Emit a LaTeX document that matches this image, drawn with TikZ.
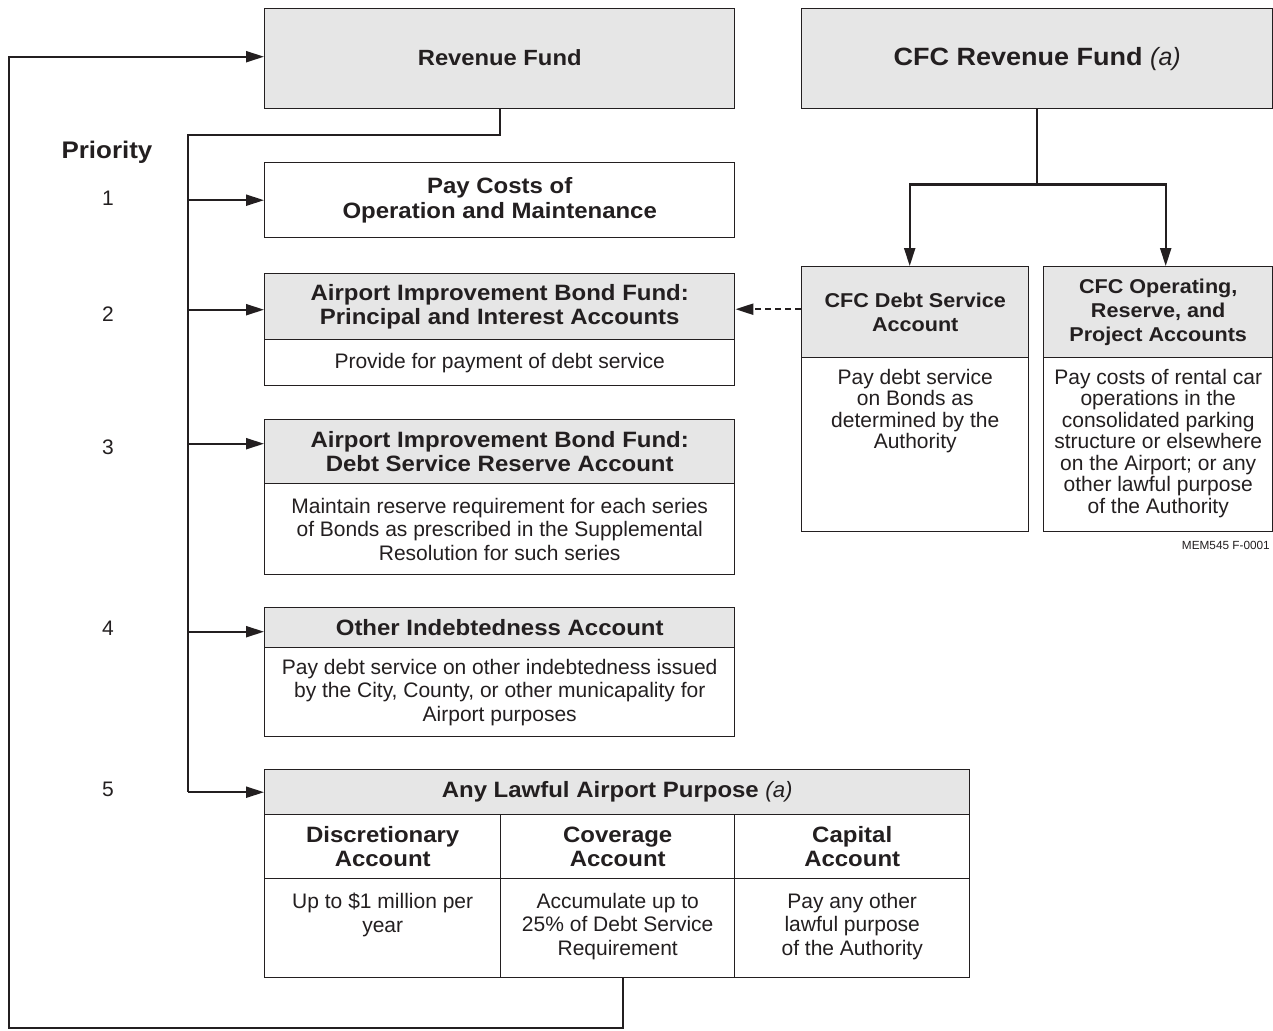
\documentclass[tikz,border=0pt]{standalone}
\usepackage{fontspec}
\setmainfont{Liberation Sans}[BoldFeatures={FakeStretch=1.08}]
\usetikzlibrary{arrows.meta,calc}
\definecolor{ink}{HTML}{231F20}
\definecolor{hdrgray}{HTML}{E6E6E6}
\begin{document}
\begin{tikzpicture}[x=1bp,y=-1bp,
  box/.style={draw=ink,line width=1.4bp,rectangle,inner sep=0pt,anchor=north west,text=ink,align=center},
  hdr/.style={box,fill=hdrgray,font=\fontsize{22.2bp}{24.5bp}\selectfont\bfseries},
  whdr/.style={box,fill=white,font=\fontsize{22.2bp}{24.5bp}\selectfont\bfseries},
  chdr/.style={box,fill=hdrgray,font=\fontsize{20bp}{24bp}\selectfont\bfseries},
  bodybox/.style={box,fill=white,font=\fontsize{21bp}{23.5bp}\selectfont},
  txt/.style={text=ink,align=center,inner sep=0pt,font=\fontsize{21bp}{23.5bp}\selectfont},
  conn/.style={draw=ink,line width=2.2bp},
  arr/.style={conn,-{Triangle[length=18bp,width=11bp]}},
  darr/.style={arr,dash pattern=on 6bp off 4bp},
]
\fill[white] (0,0) rectangle (1273,1031);
\useasboundingbox (0,0) rectangle (1273,1031);

% top funds
\node[hdr,font=\fontsize{22bp}{26bp}\selectfont\bfseries,minimum width=470bp,minimum height=100bp] (rev) at (264,8) {\raisebox{3bp}{Revenue Fund}};
\node[hdr,font=\fontsize{25bp}{28bp}\selectfont\bfseries,minimum width=471bp,minimum height=100bp] (cfc) at (801,8) {CFC Revenue Fund {\mdseries\itshape (a)}};

% priority labels
\node[txt,font=\fontsize{24bp}{26bp}\selectfont\bfseries] (prio) at (107,152) {Priority};
\node[txt] (p1) at (108,198) {1};
\node[txt] (p2) at (108,314) {2};
\node[txt] (p3) at (108,447) {3};
\node[txt] (p4) at (108,628) {4};
\node[txt] (p5) at (108,789) {5};

% box 1
\node[whdr,minimum width=470bp,minimum height=75bp] (b1) at (264,162) {Pay Costs of\\Operation and Maintenance};

% box 2
\node[hdr,minimum width=470bp,minimum height=66bp] (b2h) at (264,273) {Airport Improvement Bond Fund:\\Principal and Interest Accounts};
\node[bodybox,minimum width=470bp,minimum height=46bp] (b2b) at (264,339) {Provide for payment of debt service};

% box 3
\node[hdr,minimum width=470bp,minimum height=64bp] (b3h) at (264,419) {Airport Improvement Bond Fund:\\Debt Service Reserve Account};
\node[bodybox,minimum width=470bp,minimum height=91bp] (b3b) at (264,483) {Maintain reserve requirement for each series\\of Bonds as prescribed in the Supplemental\\Resolution for such series};

% box 4
\node[hdr,minimum width=470bp,minimum height=40bp] (b4h) at (264,607) {Other Indebtedness Account};
\node[bodybox,minimum width=470bp,minimum height=89bp] (b4b) at (264,647) {Pay debt service on other indebtedness issued\\by the City, County, or other municapality for\\Airport purposes};

% box 5
\node[hdr,minimum width=705bp,minimum height=45bp] (b5h) at (264,769) {Any Lawful Airport Purpose {\mdseries\itshape (a)}};
\node[whdr,minimum width=236bp,minimum height=64bp] (c1h) at (264,814) {Discretionary\\Account};
\node[whdr,minimum width=234bp,minimum height=64bp] (c2h) at (500,814) {Coverage\\Account};
\node[whdr,minimum width=235bp,minimum height=64bp] (c3h) at (734,814) {Capital\\Account};
\node[bodybox,minimum width=236bp,minimum height=99bp] (c1b) at (264,878) {};
\node[bodybox,minimum width=234bp,minimum height=99bp] (c2b) at (500,878) {};
\node[bodybox,minimum width=235bp,minimum height=99bp] (c3b) at (734,878) {};
\node[txt,anchor=north] (c1t) at ([yshift=-15bp]c1b.north) {Up to \$1 million per\\year};
\node[txt,anchor=north] (c2t) at ([yshift=-15bp]c2b.north) {Accumulate up to\\25\% of Debt Service\\Requirement};
\node[txt,anchor=north] (c3t) at ([yshift=-15bp]c3b.north) {Pay any other\\lawful purpose\\of the Authority};

% CFC accounts
\node[chdr,minimum width=227bp,minimum height=91bp] (dsh) at (801,266) {CFC Debt Service\\Account};
\node[bodybox,minimum width=227bp,minimum height=174bp] (dsb) at (801,357) {};
\node[txt,anchor=north,font=\fontsize{21bp}{21.5bp}\selectfont] (dst) at ([yshift=-12bp]dsb.north) {Pay debt service\\on Bonds as\\determined by the\\Authority};
\node[chdr,minimum width=229bp,minimum height=91bp] (oph) at (1043,266) {CFC Operating,\\Reserve, and\\Project Accounts};
\node[bodybox,minimum width=229bp,minimum height=174bp] (opb) at (1043,357) {};
\node[txt,anchor=north,font=\fontsize{21bp}{21.5bp}\selectfont] (opt) at ([yshift=-12bp]opb.north) {Pay costs of rental car\\operations in the\\consolidated parking\\structure or elsewhere\\on the Airport; or any\\other lawful purpose\\of the Authority};

\node[txt,font=\fontsize{11.8bp}{13bp}\selectfont,anchor=east] (mem) at (1270,545) {MEM545 F-0001};

% arrow entry points
\coordinate (a2) at ([yshift=-3bp]b2h.west);
\coordinate (a3) at ([yshift=8bp]b3h.west);
\coordinate (a4) at ([yshift=-4bp]b4h.west);
\coordinate (ar) at ([yshift=2bp]rev.west);
\coordinate (lb) at ([xshift=5bp]c2b.south);
\coordinate (ds) at ([yshift=3bp]dsh.west);

% connectors: revenue fund trunk
\coordinate (tk) at (188,135);
\draw[conn] (rev.south) |- (tk) -- (tk |- b5h.west);
\draw[arr] (tk |- b1.west) -- (b1.west);
\draw[arr] (tk |- a2) -- (a2);
\draw[arr] (tk |- a3) -- (a3);
\draw[arr] (tk |- a4) -- (a4);
\draw[arr] (tk |- b5h.west) -- (b5h.west);

% feedback loop
\coordinate (lp) at (9,1028);
\draw[arr] (lb) |- (lp) |- (ar);

% CFC split
\draw[conn] (cfc.south) -- ++(0,75) coordinate (cj);
\draw[arr] (cj) -| ([xshift=-5.5bp]dsh.north);
\draw[arr] (cj) -| ([xshift=7.5bp]oph.north);

% dashed
\draw[darr] (ds) -- (ds -| b2h.east);
\end{tikzpicture}
\end{document}
